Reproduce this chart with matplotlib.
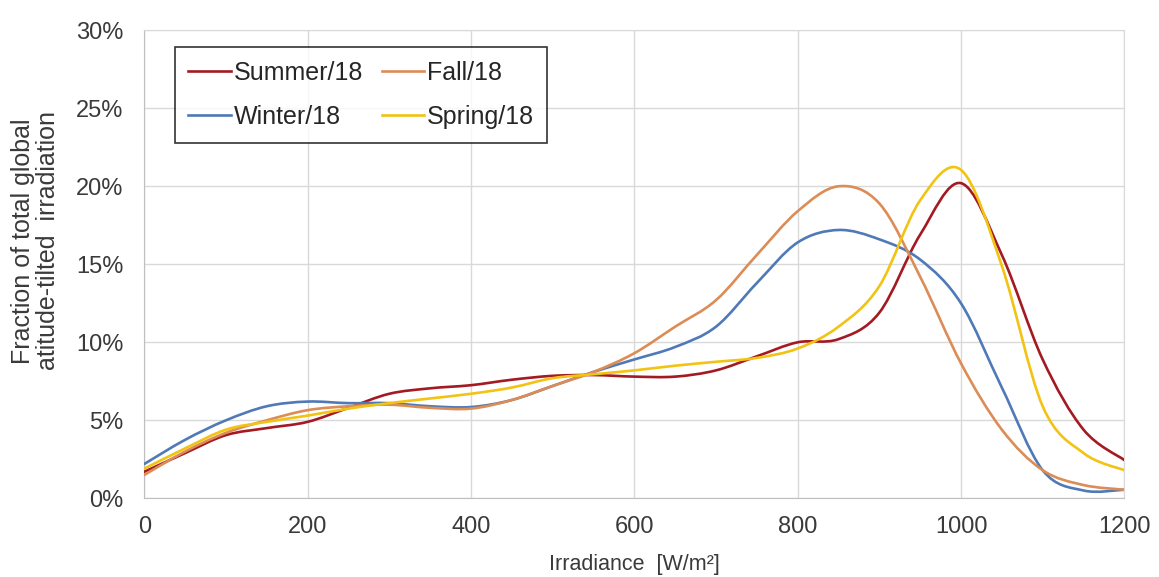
import numpy as np
import matplotlib
matplotlib.use("Agg")
import matplotlib.pyplot as plt
from matplotlib.path import Path
from matplotlib.patches import PathPatch
from matplotlib.lines import Line2D
from matplotlib.ticker import FuncFormatter

# irradiance bins [W/m2] and share of total irradiation per bin [%]
irradiance = list(range(0, 1201, 50))
summer = [1.7, 2.9, 4.05, 4.5, 4.9, 5.8, 6.7, 7.05, 7.25, 7.6, 7.85, 7.9, 7.8,
          7.8, 8.2, 9.1, 10.0, 10.2, 11.9, 16.9, 20.2, 15.6, 8.9, 4.4, 2.45]
fall = [1.5, 3.0, 4.2, 5.0, 5.65, 5.9, 6.0, 5.8, 5.75, 6.3, 7.2, 8.1, 9.3,
        11.0, 12.7, 15.6, 18.4, 20.0, 18.9, 14.2, 8.65, 4.4, 1.8, 0.85, 0.55]
winter = [2.2, 3.75, 5.0, 5.9, 6.2, 6.1, 6.1, 5.9, 5.85, 6.3, 7.2, 8.1, 8.9,
          9.7, 11.0, 13.8, 16.4, 17.2, 16.6, 15.3, 12.5, 7.1, 1.8, 0.5, 0.55]
spring = [1.9, 3.2, 4.4, 4.9, 5.3, 5.75, 6.1, 6.4, 6.7, 7.1, 7.7, 7.95, 8.2,
          8.5, 8.75, 9.0, 9.6, 11.0, 13.6, 19.1, 21.05, 14.9, 5.9, 2.9, 1.8]

series = [("Summer/18", summer, "#A31A22"),
          ("Winter/18", winter, "#4F79B7"),
          ("Fall/18", fall, "#DC8C55"),
          ("Spring/18", spring, "#F2C312")]


def smooth_path(x, y):
    # cubic bezier through every point, spreadsheet-style smoothed line
    pts = np.column_stack([x, np.asarray(y) / 100.0])
    n = len(pts)
    verts = [pts[0]]
    codes = [Path.MOVETO]
    for i in range(n - 1):
        p0 = pts[i - 1] if i > 0 else pts[i]
        p1 = pts[i]
        p2 = pts[i + 1]
        p3 = pts[i + 2] if i + 2 < n else pts[i + 1]
        c1 = p1 + (p2 - p0) / 6.0
        c2 = p2 - (p3 - p1) / 6.0
        verts += [c1, c2, p2]
        codes += [Path.CURVE4] * 3
    return Path(verts, codes)


plt.rcParams['font.family'] = ['Liberation Sans', 'DejaVu Sans']
txt_col = '#3A3A3A'

fig = plt.figure(figsize=(11.59, 5.77), dpi=100)
ax = fig.add_axes([0.1245, 0.1364, 0.8456, 0.8111])

handles = []
for name, vals, col in series:
    patch = PathPatch(smooth_path(irradiance, vals), facecolor='none',
                      edgecolor=col, linewidth=1.9, zorder=3,
                      capstyle='round', joinstyle='round')
    ax.add_patch(patch)
    handles.append(Line2D([], [], color=col, linewidth=1.9, label=name))

ax.set_xlim(0, 1200)
ax.set_ylim(0, 0.30)
ax.set_xticks(range(0, 1201, 200))
ax.set_yticks(np.arange(0, 0.301, 0.05))
ax.yaxis.set_major_formatter(FuncFormatter(lambda v, p: "%d%%" % round(v * 100)))
ax.tick_params(length=0, labelsize=17, labelcolor=txt_col)
ax.tick_params(axis='y', pad=15)
ax.tick_params(axis='x', pad=13)

ax.grid(True, color='#D9D9D9', linewidth=1.0, zorder=0)
ax.set_axisbelow(True)
for side in ['top', 'right']:
    ax.spines[side].set_color('#D9D9D9')
for side in ['left', 'bottom']:
    ax.spines[side].set_color('#BFBFBF')

ax.set_xlabel("Irradiance  [W/m\u00b2]", fontsize=15.5, color=txt_col, labelpad=11)
ax.set_ylabel("Fraction of total global\natitude-tilted  irradiation",
              fontsize=18, color=txt_col, linespacing=1.05)
ax.yaxis.set_label_coords(-0.086, 0.55)

leg = ax.legend(handles=handles, loc='upper left', bbox_to_anchor=(0.031, 0.964),
                ncol=2, fontsize=18, frameon=True, fancybox=False,
                edgecolor='black', handlelength=1.7, handletextpad=0.1,
                columnspacing=0.75, labelspacing=0.8, borderpad=0.55,
                borderaxespad=0)
leg.get_frame().set_linewidth(1.2)
for t in leg.get_texts():
    t.set_color('#262626')

fig.savefig("out.png", dpi=100, facecolor='white')
